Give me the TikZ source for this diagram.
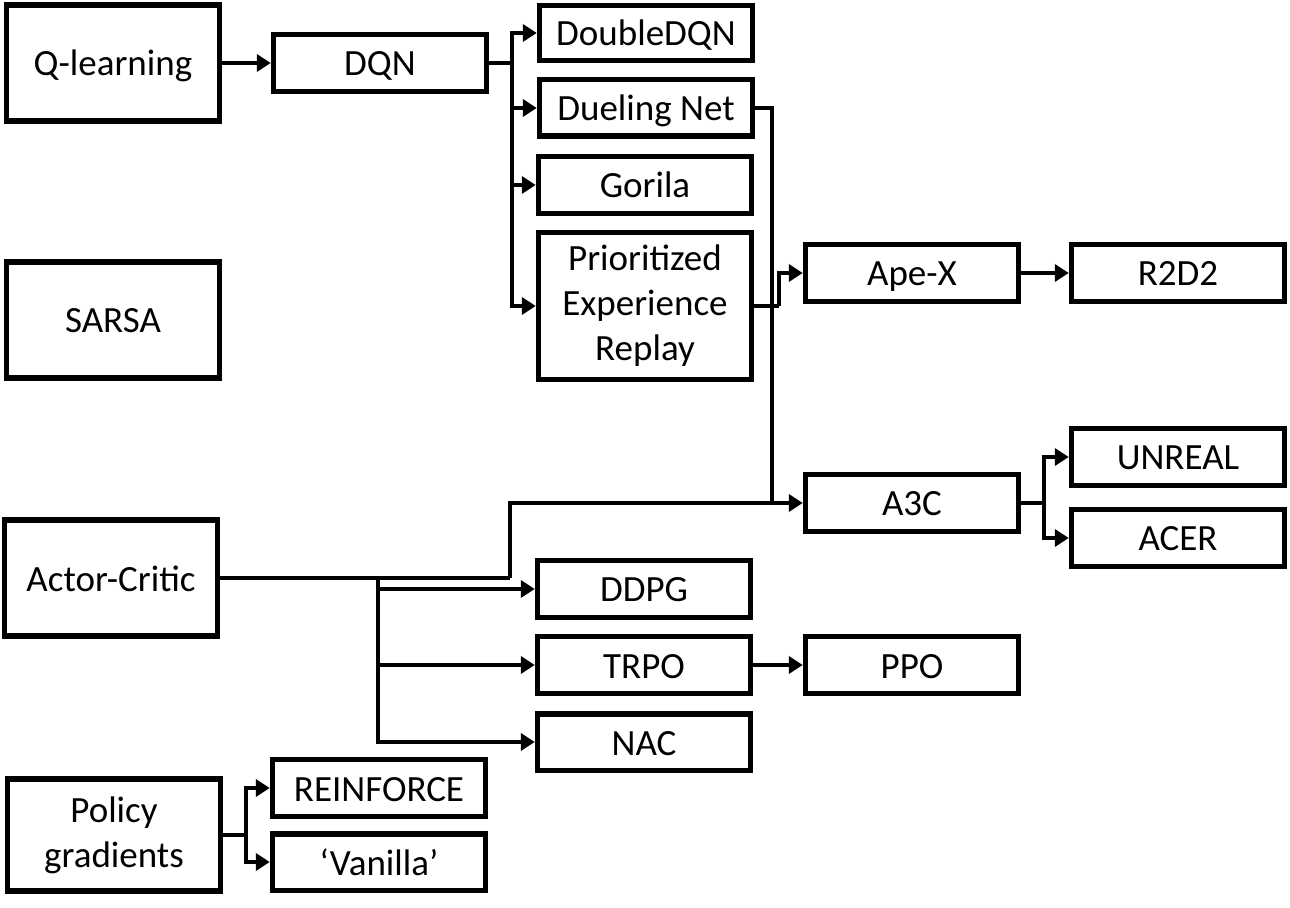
\documentclass[tikz,border=0pt]{standalone}
\usepackage{fontspec}
\setmainfont{Carlito}
\usetikzlibrary{arrows.meta}

\begin{document}
\begin{tikzpicture}[x=0.5pt,y=-0.5pt,
  box/.style={draw,line width=2.7pt,inner sep=0pt,minimum width=106.5pt,minimum height=28.7pt,
    align=center,font=\fontsize{18.5}{22.5}\selectfont,text height=16.4pt,text depth=3.4pt},
  tall/.style={box,minimum height=58pt},
  lines/.style={text height=,text depth=},
  link/.style={line width=2.4pt},
  arr/.style={link,-{Triangle[length=7pt,width=8.5pt]}}]
\useasboundingbox (0,0) rectangle (1290,908);

% left column
\node[tall] (qlearn) at (113,63) {Q-learning};
\node[tall] (sarsa) at (113,320) {SARSA};
\node[tall] (ac) at (111,578) {Actor-Critic};
\node[tall,lines,minimum height=56pt] (pg) at (114,835) {Policy\\gradients};

% value based branch
\node[box] (dqn) at (380,63) {DQN};
\node[box,minimum height=27.7pt] (ddqn) at (646,33) {DoubleDQN};
\node[box,minimum height=28.2pt] (dueling) at (646,108) {Dueling Net};
\node[box] (gorila) at (645,185) {Gorila};
\node[box,lines,minimum height=73.7pt] (per) at (645,306) {Prioritized\\Experience\\Replay};
\node[box] (apex) at (912,273) {Ape-X};
\node[box] (r2d2) at (1178,273) {R2D2};

% actor-critic branch
\node[box] (a3c) at (912,503) {A3C};
\node[box] (unreal) at (1178,457) {UNREAL};
\node[box] (acer) at (1178,538) {ACER};
\node[box] (ddpg) at (644,589) {DDPG};
\node[box] (trpo) at (644,665) {TRPO};
\node[box] (ppo) at (912,665) {PPO};
\node[box,minimum height=28.2pt] (nac) at (644,742) {NAC};

% policy gradients
\node[box] (reinforce) at (379,788) {REINFORCE};
\node[box,minimum height=28.2pt] (vanilla) at (379,862) {‘Vanilla’};

% junctions
\coordinate (jdqn) at (512,63);
\coordinate (jduel) at (772,503);
\coordinate (jper) at (779,306);
\coordinate (jac) at (510,578);
\coordinate (jbus) at (378,578);
\coordinate (ja3c) at (1044,503);
\coordinate (jpg) at (246,835);

\draw[arr] (qlearn) -- (dqn);
\draw[link] (dqn.east) -- (jdqn);
\draw[arr] (jdqn) |- (ddqn.west);
\draw[arr] (jdqn) |- (dueling.west);
\draw[arr] (jdqn) |- (gorila.west);
\draw[arr] (jdqn) |- (per.west);
\draw[link] (dueling.east) -| (jduel);
\draw[link] (per.east) -- (jper);
\draw[arr] (jper) |- (apex.west);
\draw[arr] (apex) -- (r2d2);

\draw[link] (ac.east) -- (jac);
\draw[arr] (jac) |- (a3c.west);
\draw[link] (a3c.east) -- (ja3c);
\draw[arr] (ja3c) |- (unreal.west);
\draw[arr] (ja3c) |- (acer.west);
\draw[arr] (jbus) |- (ddpg.west);
\draw[arr] (jbus) |- (trpo.west);
\draw[arr] (jbus) |- (nac.west);
\draw[arr] (trpo) -- (ppo);

\draw[link] (pg.east) -- (jpg);
\draw[arr] (jpg) |- (reinforce.west);
\draw[arr] (jpg) |- (vanilla.west);
\end{tikzpicture}
\end{document}
